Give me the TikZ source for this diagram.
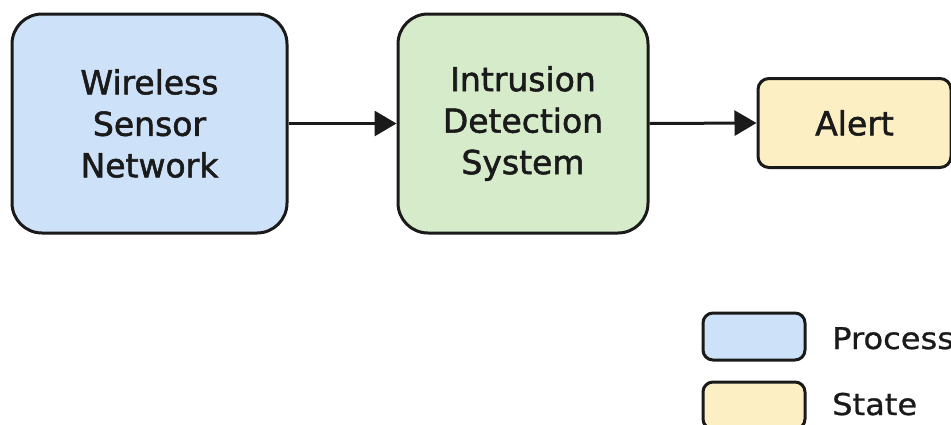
\documentclass[tikz,border=0pt]{standalone}
\usepackage{fontspec}
\setmainfont{DejaVu Sans}
\newfontfamily\labelfont{DejaVu Sans}[FakeBold=1.6]
\newfontfamily\keyfont{DejaVu Sans}[FakeBold=0.8, FakeStretch=1.07]
\usetikzlibrary{arrows.meta}
\definecolor{procfill}{HTML}{CDE1F8}
\definecolor{detfill}{HTML}{D5EBC9}
\definecolor{statefill}{HTML}{FCEFC4}
\definecolor{ink}{HTML}{1A1A1A}
\tikzset{
  block/.style={draw=ink, line width=3pt, rounded corners=30pt, align=center,
    text=ink, font=\labelfont\fontsize{33}{41.5}\selectfont, inner sep=0pt},
  statebox/.style={draw=ink, line width=3pt, rounded corners=11pt, align=center,
    text=ink, font=\labelfont\fontsize{33}{41.5}\selectfont, inner sep=0pt, fill=statefill},
  keybox/.style={draw=ink, line width=3pt, rounded corners=10pt, inner sep=0pt,
    minimum width=102pt, minimum height=47pt},
  keytext/.style={anchor=base west, text=ink, font=\keyfont\fontsize{30}{36}\selectfont, inner sep=0pt},
  flow/.style={draw=ink, line width=3pt, -{Triangle[length=22pt, width=25pt]}}
}
\begin{document}
\begin{tikzpicture}[x=1pt, y=-1pt]
  \clip (0,0) rectangle (951,424);
  \useasboundingbox (0,0) rectangle (951,424);
  % main flow
  \node[block, fill=procfill, minimum width=275pt, minimum height=219pt] (wsn) at (149.5,123.5)
    {Wireless\\Sensor\\Network};
  \node[block, fill=detfill, minimum width=250pt, minimum height=219pt] (ids) at (523,123.5)
    {Intrusion\\Detection\\System};
  \node[statebox, minimum width=193pt, minimum height=89pt] (alert) at (854.5,123)
    {Alert};
  \draw[flow] (wsn.east) -- (ids.west);
  \draw[flow] (ids.east) -- (alert.west);
  % legend
  \node[keybox, fill=procfill] (kproc) at (754,336.5) {};
  \node[keybox, fill=statefill] (kstate) at (754,405.5) {};
  \node[keytext] (lproc) at (832,349) {Process};
  \node[keytext] (lstate) at (832,415) {State};
\end{tikzpicture}
\end{document}
